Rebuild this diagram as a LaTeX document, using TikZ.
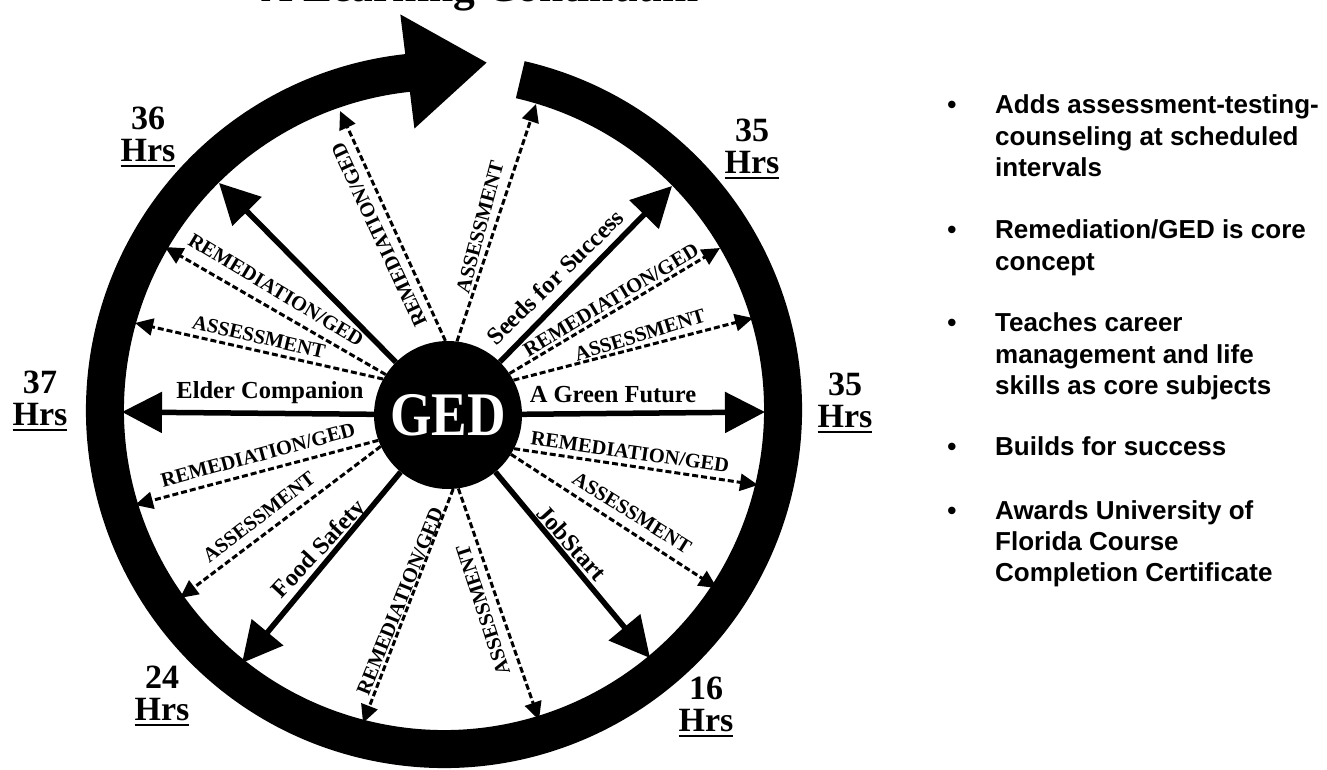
\documentclass[tikz,border=0pt]{standalone}
\usepackage{fontspec}
\usepackage{graphicx}
\setmainfont{Liberation Serif}
\newfontfamily\sansb{Liberation Sans}
\usetikzlibrary{arrows.meta}
\newcommand\ulhrs[1]{\setbox0\hbox{#1}\rlap{\rule[-5pt]{\wd0}{2pt}}\box0}
\begin{document}
\begin{tikzpicture}[x=1pt,y=1pt,
  solidarrow/.style={line width=5.5pt, -{Triangle[length=40pt,width=40pt]}},
  dasharrow/.style={line width=3pt, dash pattern=on 6pt off 3pt, -{Triangle[length=18pt,width=17pt]}},
  dlabel/.style={font=\fontsize{20.5}{22}\selectfont\bfseries, inner sep=0pt},
  slabel/.style={font=\fontsize{24.5}{26}\selectfont\bfseries, inner sep=0pt},
  hrs/.style={font=\fontsize{34}{32}\selectfont\bfseries, align=center, inner sep=0pt},
  bullettext/.style={font=\sansb\fontsize{26}{31.1}\selectfont\bfseries, anchor=base west, inner sep=0pt},
  bulletdot/.style={font=\sansb\fontsize{26}{31.1}\selectfont\bfseries, anchor=base, inner sep=0pt},
  ring/.style={line width=38pt},
]
\clip (0,0) rectangle (1327,769);
\fill[white] (0,0) rectangle (1327,769);

% title (cut off at the top)
\node[font=\fontsize{43.5}{46}\selectfont\bfseries, anchor=base, inner sep=0pt] (title) at (480,767) {A Learning Continuum};

% ring arrow
\coordinate (C) at (444,359);
\draw[ring] ([shift={(77:339)}]C) arc[start angle=77, end angle=-264, radius=339];
\fill ([shift={(96:283)}]C) -- ([shift={(96.3:398)}]C) -- ([shift={(83:350)}]C) -- cycle;

% centre
\node[circle, fill=black, minimum size=148pt, inner sep=0pt, text=white,
      font=\fontsize{62}{64}\selectfont\bfseries] (ged) at (448,354) {\scalebox{0.86}[1]{GED}};

% tips of solid arrows
\coordinate (tseeds) at (672,583);
\coordinate (tgreen) at (765,357);
\coordinate (tjob) at (650,111);
\coordinate (tfood) at (242,106);
\coordinate (telder) at (122,357);
\coordinate (tsix) at (219,586);

\draw[solidarrow] (ged) -- (tseeds);
\draw[solidarrow] (ged) -- (tgreen);
\draw[solidarrow] (ged) -- (tjob);
\draw[solidarrow] (ged) -- (tfood);
\draw[solidarrow] (ged) -- (telder);
\draw[solidarrow] (ged) -- (tsix);

% tips of dashed arrows
\coordinate (dTR) at (340,658);
\coordinate (dTA) at (536,665);
\coordinate (dRUR) at (720,521);
\coordinate (dRUA) at (753,451);
\coordinate (dRLR) at (758,284);
\coordinate (dRLA) at (717,181);
\coordinate (dBA) at (539,49);
\coordinate (dBR) at (363,46);
\coordinate (dLLR) at (135,264);
\coordinate (dLLA) at (180,171);
\coordinate (dLUA) at (135,446);
\coordinate (dLUR) at (165,522);

\draw[dasharrow] (ged.92) -- (dTR);
\draw[dasharrow] (ged.83) -- (dTA);
\draw[dasharrow] (ged.34) -- (dRUR);
\draw[dasharrow] (ged.28) -- (dRUA);
\draw[dasharrow] (ged.-27) -- (dRLR);
\draw[dasharrow] (ged.-32) -- (dRLA);
\draw[dasharrow] (ged.-82) -- (dBA);
\draw[dasharrow] (ged.-86) -- (dBR);
\draw[dasharrow] (ged.200) -- (dLLR);
\draw[dasharrow] (ged.205) -- (dLLA);
\draw[dasharrow] (ged.151) -- (dLUA);
\draw[dasharrow] (ged.147) -- (dLUR);

% labels of dashed arrows
\node[dlabel, rotate=115] (lTR) at (379,534) {REMEDIATION/GED};
\node[dlabel, rotate=75] (lTA) at (480,542) {ASSESSMENT};
\node[dlabel, rotate=31] (lRUR) at (611,469) {REMEDIATION/GED};
\node[dlabel, rotate=17] (lRUA) at (640,434) {ASSESSMENT};
\node[dlabel, rotate=-8] (lRLR) at (630,317) {REMEDIATION/GED};
\node[dlabel, rotate=-32] (lRLA) at (632,256) {ASSESSMENT};
\node[dlabel, rotate=108] (lBA) at (483,159) {ASSESSMENT};
\node[dlabel, rotate=68] (lBR) at (400,168) {REMEDIATION/GED};
\node[dlabel, rotate=37.5] (lLLA) at (259,252) {ASSESSMENT};
\node[dlabel, rotate=15] (lLLR) at (258,314) {REMEDIATION/GED};
\node[dlabel, rotate=-13] (lLUA) at (259,432) {ASSESSMENT};
\node[dlabel, rotate=-31] (lLUR) at (276,479) {REMEDIATION/GED};

% labels of solid arrows
\node[slabel, rotate=44.5] (lseeds) at (555,492) {Seeds for Success};
\node[slabel] (lgreen) at (613,374) {A Green Future};
\node[slabel, rotate=-48] (ljob) at (572,226) {JobStart};
\node[slabel, rotate=47] (lfood) at (320,219) {Food Safety};
\node[slabel] (lelder) at (270,376) {Elder Companion};

% hours
\node[hrs] (h36) at (148,632) {36\\\ulhrs{Hrs}};
\node[hrs] (h35a) at (752,620) {35\\\ulhrs{Hrs}};
\node[hrs] (h35b) at (845,366) {35\\\ulhrs{Hrs}};
\node[hrs] (h37) at (40,368) {37\\\ulhrs{Hrs}};
\node[hrs] (h24) at (162,73) {24\\\ulhrs{Hrs}};
\node[hrs] (h16) at (706,62) {16\\\ulhrs{Hrs}};

% bullet list
\node[bulletdot] (b1) at (952,655) {\textbullet};
\node[bullettext] (t1) at (995,655) {\begin{tabular}[t]{@{}l@{}}Adds assessment-testing-\\counseling at scheduled\\intervals\end{tabular}};
\node[bulletdot] (b2) at (952,530) {\textbullet};
\node[bullettext] (t2) at (995,530) {\begin{tabular}[t]{@{}l@{}}Remediation/GED is core\\concept\end{tabular}};
\node[bulletdot] (b3) at (952,437) {\textbullet};
\node[bullettext] (t3) at (995,437) {\begin{tabular}[t]{@{}l@{}}Teaches career\\management and life\\skills as core subjects\end{tabular}};
\node[bulletdot] (b4) at (952,313) {\textbullet};
\node[bullettext] (t4) at (995,313) {Builds for success};
\node[bulletdot] (b5) at (952,250) {\textbullet};
\node[bullettext] (t5) at (995,250) {\begin{tabular}[t]{@{}l@{}}Awards University of\\Florida Course\\Completion Certificate\end{tabular}};
\end{tikzpicture}
\end{document}
